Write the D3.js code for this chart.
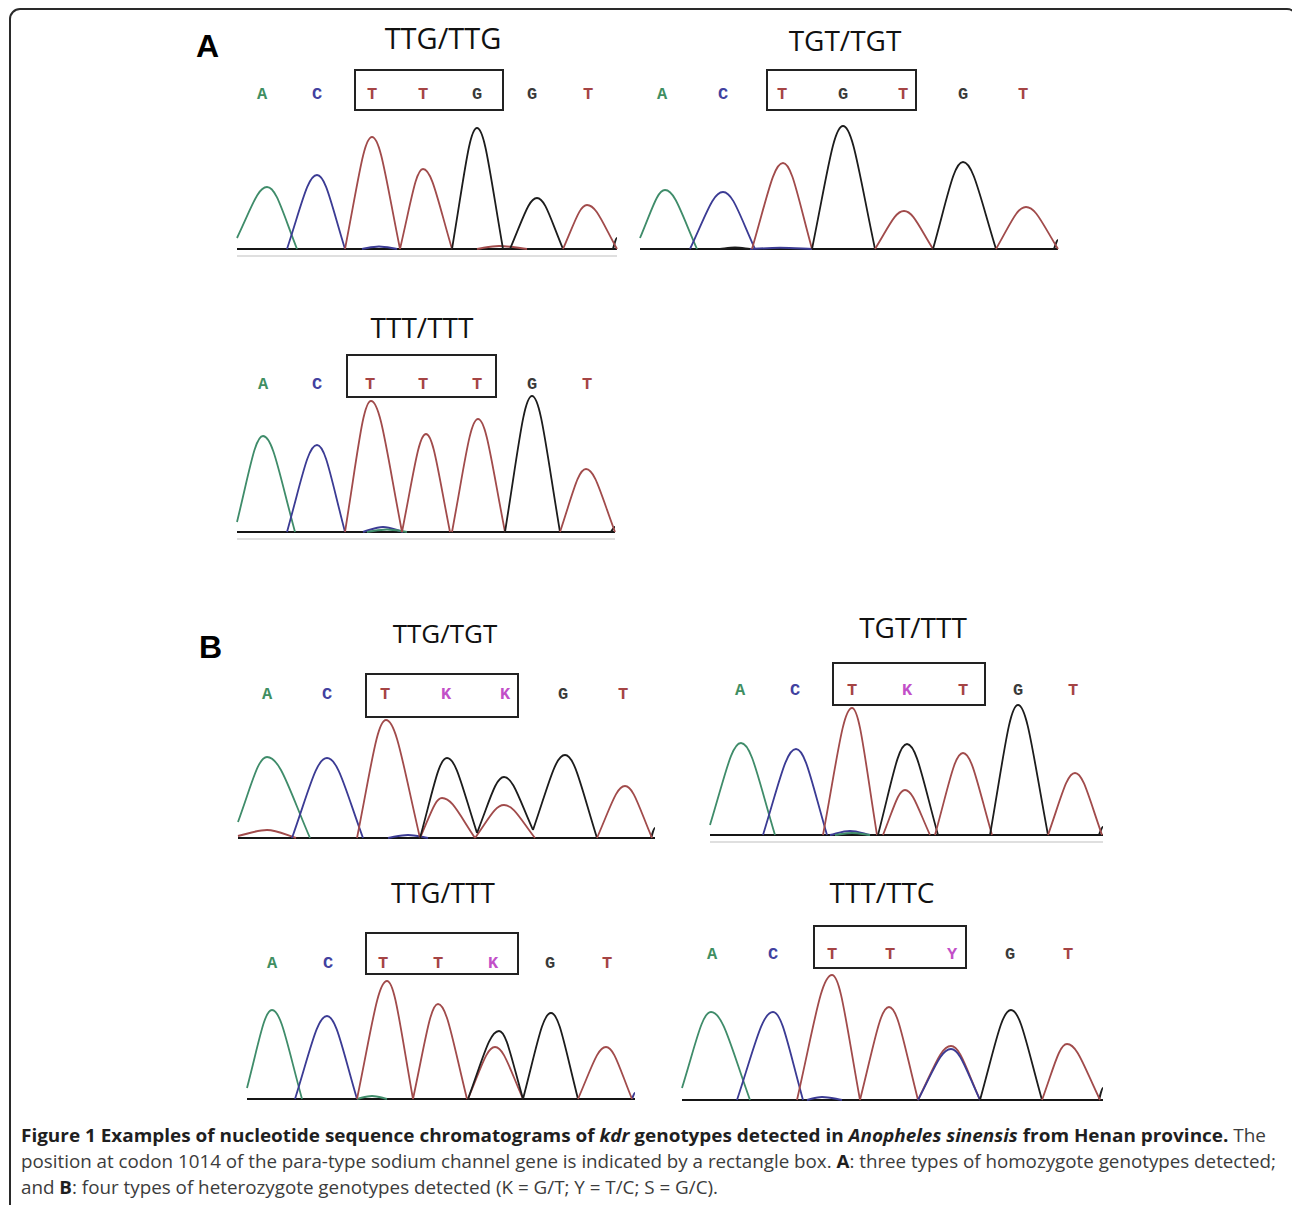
<!DOCTYPE html>
<html>
<head>
<meta charset="utf-8">
<script src="https://cdn.jsdelivr.net/npm/d3@7"></script>
<style>
  body { margin: 0; background: #fff; }
  svg { display: block; }
</style>
</head>
<body>
<svg id="fig" width="1292" height="1205"></svg>
<script>

// trace colours per channel, and letter colours for the base calls
var traceColor = {A: "#3f8c6a", C: "#3b3b94", G: "#1c1c1c", T: "#a14b4b"};
var callColor = {A: "#3f8f62", C: "#4141a0", G: "#3a3a3a", T: "#a54444", K: "#c24fc8", Y: "#c24fc8"};

// peaks: [channel, start, apex, end, height, startLevel, endLevel]  (scan units / signal units)

// ---- A: TTG/TTG
var a1Title = "TTG/TTG";
var a1Calls = ["A", "C", "T", "T", "G", "G", "T"];
var a1CallPos = [25, 80, 135, 186, 240, 295, 351];
var a1Peaks = [
  ["A", 0, 30, 60, 62, 11, 0],
  ["C", 50, 80, 108, 74, 0, 0],
  ["T", 108, 135, 163, 112, 0, 0],
  ["T", 163, 186, 215, 80, 0, 0],
  ["G", 215, 240, 266, 121, 0, 0],
  ["G", 273, 300, 326, 51, 0, 0],
  ["T", 326, 350, 380, 44, 0, 0]
];
var a1Minor = [
  ["C", 125, 142, 160, 2.5, 0, 0],
  ["T", 240, 262, 290, 3, 0, 0],
  ["G", 376, 380, 380, 11, 0, 0]
];

// ---- A: TGT/TGT
var a2Title = "TGT/TGT";
var a2Calls = ["A", "C", "T", "G", "T", "G", "T"];
var a2CallPos = [22, 83, 142, 203, 263, 323, 383];
var a2Peaks = [
  ["A", 0, 25, 57, 59, 11, 0],
  ["C", 50, 83, 115, 57, 0, 0],
  ["T", 112, 143, 172, 86, 0, 0],
  ["G", 172, 203, 235, 123, 0, 0],
  ["T", 235, 264, 293, 38, 0, 0],
  ["G", 293, 323, 356, 87, 0, 0],
  ["T", 356, 386, 418, 42, 0, 0]
];
var a2Minor = [
  ["C", 110, 140, 172, 1.2, 0, 0],
  ["G", 80, 95, 110, 1.5, 0, 0],
  ["G", 414, 418, 418, 9, 0, 0]
];

// ---- A: TTT/TTT
var a3Title = "TTT/TTT";
var a3Calls = ["A", "C", "T", "T", "T", "G", "T"];
var a3CallPos = [26, 80, 133, 186, 240, 295, 350];
var a3Peaks = [
  ["A", 0, 26, 58, 96, 10, 0],
  ["C", 50, 80, 108, 87, 0, 0],
  ["T", 108, 134, 165, 131, 0, 0],
  ["T", 165, 189, 213, 98, 0, 0],
  ["T", 215, 241, 268, 113, 0, 0],
  ["G", 268, 295, 323, 136, 0, 0],
  ["T", 323, 349, 378, 63, 0, 0]
];
var a3Minor = [
  ["C", 126, 146, 166, 5, 0, 0],
  ["A", 130, 150, 170, 2.5, 0, 0],
  ["G", 374, 378, 378, 5, 0, 0]
];

// ---- B: TTG/TGT
var b1Title = "TTG/TGT";
var b1Calls = ["A", "C", "T", "K", "K", "G", "T"];
var b1CallPos = [29, 89, 147, 208, 267, 325, 385];
var b1Peaks = [
  ["A", 0, 29, 72, 81, 16, 0],
  ["C", 54, 89, 125, 80, 0, 0],
  ["T", 119, 148, 182, 118, 0, 0],
  ["T", 182, 204, 237, 40, 0, 0],
  ["G", 182, 209, 239, 80, 0, 5],
  ["T", 237, 266, 297, 33, 0, 0],
  ["G", 239, 266, 295, 61, 5, 8],
  ["G", 295, 327, 359, 83, 8, 0],
  ["T", 359, 387, 414, 52, 0, 0]
];
var b1Minor = [
  ["T", 0, 29, 58, 8, 2, 0],
  ["C", 150, 170, 190, 3, 0, 0],
  ["G", 413, 417, 417, 10, 0, 0]
];

// ---- B: TGT/TTT
var b2Title = "TGT/TTT";
var b2Calls = ["A", "C", "T", "K", "T", "G", "T"];
var b2CallPos = [30, 85, 142, 197, 253, 308, 363];
var b2Peaks = [
  ["A", 0, 31, 65, 92, 10, 0],
  ["C", 53, 86, 117, 86, 0, 0],
  ["T", 113, 142, 167, 127, 0, 0],
  ["T", 173, 195, 220, 45, 0, 0],
  ["G", 168, 197, 228, 91, 0, 0],
  ["T", 225, 253, 282, 82, 0, 0],
  ["G", 280, 308, 338, 130, 0, 0],
  ["T", 338, 365, 392, 62, 0, 0]
];
var b2Minor = [
  ["C", 120, 140, 160, 4, 0, 0],
  ["A", 125, 142, 160, 2, 0, 0],
  ["G", 389, 393, 393, 8, 0, 0]
];

// ---- B: TTG/TTT
var b3Title = "TTG/TTT";
var b3Calls = ["A", "C", "T", "T", "K", "G", "T"];
var b3CallPos = [25, 81, 136, 191, 246, 303, 360];
var b3Peaks = [
  ["A", 0, 25, 55, 89, 11, 0],
  ["C", 48, 80, 110, 83, 0, 0],
  ["T", 110, 140, 166, 118, 0, 0],
  ["T", 166, 191, 220, 95, 0, 0],
  ["T", 221, 248, 276, 52, 0, 0],
  ["G", 221, 252, 276, 68, 0, 0],
  ["G", 276, 304, 331, 86, 0, 0],
  ["T", 331, 359, 385, 52, 0, 0]
];
var b3Minor = [
  ["A", 110, 125, 140, 3, 0, 0],
  ["C", 385, 388, 388, 6, 0, 0]
];

// ---- B: TTT/TTC
var b4Title = "TTT/TTC";
var b4Calls = ["A", "C", "T", "T", "Y", "G", "T"];
var b4CallPos = [30, 91, 150, 208, 270, 328, 386];
var b4Peaks = [
  ["A", 0, 29, 68, 88, 12, 0],
  ["C", 55, 91, 121, 88, 0, 0],
  ["T", 115, 150, 178, 125, 0, 0],
  ["T", 178, 207, 236, 93, 0, 0],
  ["T", 236, 269, 298, 54, 0, 0],
  ["C", 236, 269, 298, 51, 0, 0],
  ["G", 298, 329, 360, 90, 0, 0],
  ["T", 360, 385, 418, 56, 0, 0]
];
var b4Minor = [
  ["C", 125, 140, 160, 3, 0, 0],
  ["G", 417, 421, 421, 12, 0, 0]
];

// layout of the six chromatograms on the page
var panels = [
  {title: a1Title, calls: a1Calls, pos: a1CallPos, peaks: a1Peaks, minor: a1Minor,
   left: 237, base: 249, len: 380, tx: 443, ty: 49, tsize: 29, ly: 93, box: [355, 70, 503, 110], grey: true},
  {title: a2Title, calls: a2Calls, pos: a2CallPos, peaks: a2Peaks, minor: a2Minor,
   left: 640, base: 249, len: 418, tx: 845, ty: 51, tsize: 28, ly: 93, box: [767, 70, 916, 110], grey: false},
  {title: a3Title, calls: a3Calls, pos: a3CallPos, peaks: a3Peaks, minor: a3Minor,
   left: 237, base: 532, len: 378, tx: 422, ty: 338, tsize: 28, ly: 383, box: [347, 355, 496, 397], grey: true},
  {title: b1Title, calls: b1Calls, pos: b1CallPos, peaks: b1Peaks, minor: b1Minor,
   left: 238, base: 838, len: 417, tx: 445, ty: 643, tsize: 26, ly: 693, box: [366, 674, 518, 717], grey: false},
  {title: b2Title, calls: b2Calls, pos: b2CallPos, peaks: b2Peaks, minor: b2Minor,
   left: 710, base: 835, len: 393, tx: 913, ty: 638, tsize: 28, ly: 689, box: [833, 663, 985, 705], grey: true},
  {title: b3Title, calls: b3Calls, pos: b3CallPos, peaks: b3Peaks, minor: b3Minor,
   left: 247, base: 1099, len: 388, tx: 443, ty: 903, tsize: 27, ly: 962, box: [366, 933, 518, 974], grey: false},
  {title: b4Title, calls: b4Calls, pos: b4CallPos, peaks: b4Peaks, minor: b4Minor,
   left: 682, base: 1100, len: 421, tx: 882, ty: 903, tsize: 28, ly: 953, box: [814, 926, 966, 968], grey: false}
];

var svg = d3.select("#fig");

// outer frame, rounded corners
svg.append("rect").attr("x", 10).attr("y", 9).attr("width", 1287).attr("height", 1230)
  .attr("rx", 10).attr("fill", "none").attr("stroke", "#2a2a2a").attr("stroke-width", 2);

svg.append("text").attr("x", 196).attr("y", 57).text("A")
  .style("font-family", "Liberation Sans, Arial, sans-serif").style("font-weight", "bold").style("font-size", "32px");
svg.append("text").attr("x", 199).attr("y", 658).text("B")
  .style("font-family", "Liberation Sans, Arial, sans-serif").style("font-weight", "bold").style("font-size", "32px");

// one peak: bell shape, rounded top
function peakPath(x, y, p) {
  var s = p[1], a = p[2], e = p[3], h = p[4], s0 = p[5], e0 = p[6];
  var path = d3.path();
  var dl = a - s;
  path.moveTo(x(s), y(s0));
  path.bezierCurveTo(x(s + 0.5 * dl), y(s0 + 0.62 * (h - s0)), x(a - 0.3 * dl), y(h), x(a), y(h));
  if (e > a) {
    var dr = e - a;
    path.bezierCurveTo(x(a + 0.3 * dr), y(h), x(e - 0.5 * dr), y(e0 + 0.62 * (h - e0)), x(e), y(e0));
  }
  return path.toString();
}

panels.forEach(function(pn) {
  var g = svg.append("g");
  var x = d3.scaleLinear().domain([0, pn.len]).range([pn.left, pn.left + pn.len]);
  var y = d3.scaleLinear().domain([0, 140]).range([pn.base, pn.base - 140]);

  g.append("text").attr("x", pn.tx).attr("y", pn.ty).attr("text-anchor", "middle")
    .style("font-family", "Open Sans, Noto Sans, sans-serif").style("font-size", pn.tsize + "px")
    .attr("fill", "#111").text(pn.title);

  g.append("rect").attr("x", pn.box[0]).attr("y", pn.box[1])
    .attr("width", pn.box[2] - pn.box[0]).attr("height", pn.box[3] - pn.box[1])
    .attr("fill", "none").attr("stroke", "#222").attr("stroke-width", 2);

  g.selectAll(".call").data(pn.calls).enter().append("text")
    .attr("x", function(d, i) { return x(pn.pos[i]); })
    .attr("y", pn.ly).attr("dy", "0.35em").attr("text-anchor", "middle")
    .style("font-family", "Courier New, Liberation Mono, monospace").style("font-weight", "bold")
    .style("font-size", "17px")
    .attr("fill", function(d) { return callColor[d]; })
    .text(function(d) { return d; });

  if (pn.grey) {
    g.append("line").attr("x1", x(0)).attr("x2", x(pn.len)).attr("y1", pn.base + 7).attr("y2", pn.base + 7)
      .attr("stroke", "#d4d4d4").attr("stroke-width", 1.5);
  }

  g.append("line").attr("x1", x(0)).attr("x2", x(pn.len)).attr("y1", y(0)).attr("y2", y(0))
    .attr("stroke", "#151515").attr("stroke-width", 2.2);

  g.selectAll(".minor").data(pn.minor).enter().append("path")
    .attr("d", function(p) { return peakPath(x, y, p); })
    .attr("fill", "none").attr("stroke", function(p) { return traceColor[p[0]]; })
    .attr("stroke-width", 2);

  g.selectAll(".peak").data(pn.peaks).enter().append("path")
    .attr("d", function(p) { return peakPath(x, y, p); })
    .attr("fill", "none").attr("stroke", function(p) { return traceColor[p[0]]; })
    .attr("stroke-width", 1.8);
});

// caption
var capFont = "Liberation Sans Narrow, Open Sans, sans-serif";
var cap1 = svg.append("text").attr("x", 21).attr("y", 1142).attr("textLength", 1245)
  .attr("lengthAdjust", "spacingAndGlyphs").style("font-family", capFont).style("font-size", "18px").attr("fill", "#3c3c3c");
cap1.append("tspan").style("font-weight", "bold").attr("fill", "#1f1f1f").text("Figure 1 Examples of nucleotide sequence chromatograms of ");
cap1.append("tspan").style("font-weight", "bold").style("font-style", "italic").attr("fill", "#1f1f1f").text("kdr");
cap1.append("tspan").style("font-weight", "bold").attr("fill", "#1f1f1f").text(" genotypes detected in ");
cap1.append("tspan").style("font-weight", "bold").style("font-style", "italic").attr("fill", "#1f1f1f").text("Anopheles sinensis");
cap1.append("tspan").style("font-weight", "bold").attr("fill", "#1f1f1f").text(" from Henan province.");
cap1.append("tspan").text(" The");

var cap2 = svg.append("text").attr("x", 21).attr("y", 1168).attr("textLength", 1255)
  .attr("lengthAdjust", "spacingAndGlyphs").style("font-family", capFont).style("font-size", "18px").attr("fill", "#3c3c3c");
cap2.append("tspan").text("position at codon 1014 of the para-type sodium channel gene is indicated by a rectangle box. ");
cap2.append("tspan").style("font-weight", "bold").attr("fill", "#1f1f1f").text("A");
cap2.append("tspan").text(": three types of homozygote genotypes detected;");

var cap3 = svg.append("text").attr("x", 21).attr("y", 1194).attr("textLength", 697)
  .attr("lengthAdjust", "spacingAndGlyphs").style("font-family", capFont).style("font-size", "18px").attr("fill", "#3c3c3c");
cap3.append("tspan").text("and ");
cap3.append("tspan").style("font-weight", "bold").attr("fill", "#1f1f1f").text("B");
cap3.append("tspan").text(": four types of heterozygote genotypes detected (K = G/T; Y = T/C; S = G/C).");

</script>
</body>
</html>
